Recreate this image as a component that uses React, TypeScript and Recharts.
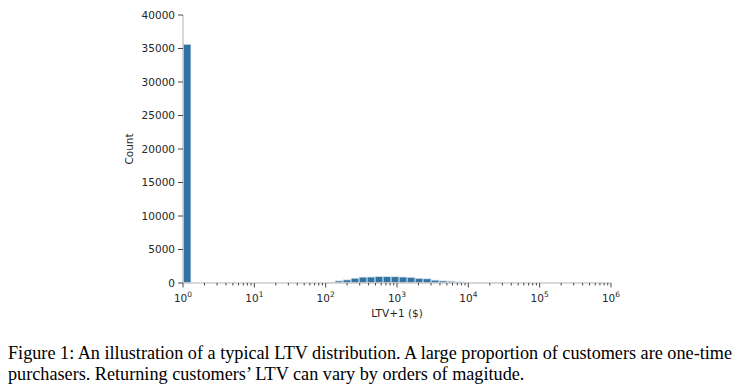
import { BarChart, Bar, XAxis, YAxis, Label } from "recharts";

// histogram of log10(LTV+1), bins of ~0.112 decades starting at 10^0
const BIN_DECADES = 0.1122;
const BIN_COUNTS = [
  35630, 0, 0, 0, 0, 0, 0, 0, 0, 0, 0, 0, 0, 0, 0, 0, 0, 0,
  120, 320, 480, 720, 880, 900, 980, 970, 950, 900, 850, 700, 640, 430, 320, 260, 160, 100, 50, 20,
  10, 5, 0, 0, 0, 0, 0, 0, 0, 0, 0, 0, 0, 0, 0,
];
const Y_TICKS = [0, 5000, 10000, 15000, 20000, 25000, 30000, 35000, 40000];
const DECADES = [0, 1, 2, 3, 4, 5, 6];
const MINOR_STEPS = [2, 3, 4, 5, 6, 7, 8, 9];

// bin centre on the log10 axis
const data = BIN_COUNTS.map((count, i) => ({ lx: (i + 0.5) * BIN_DECADES, count }));
const xTicks = [
  ...DECADES,
  ...DECADES.slice(0, -1).flatMap((d) => MINOR_STEPS.map((k) => d + Math.log10(k))),
].sort((a, b) => a - b);

const FONT = "DejaVu Sans";
const INK = "#262626";

function LogTick(props: any) {
  const { x, y, payload } = props;
  const v = payload.value;
  const major = Math.abs(v - Math.round(v)) < 1e-6;
  return (
    <g>
      <line x1={x} x2={x} y1={y} y2={y + (major ? 4.5 : 2.5)} stroke="#333" strokeWidth={0.9} />
      {major && (
        <text x={x} y={y + 19} textAnchor="middle" fontSize={10.5} fill={INK} fontFamily={FONT}>
          <tspan>10</tspan>
          <tspan dy={-5} fontSize={7.5}>{Math.round(v)}</tspan>
        </text>
      )}
    </g>
  );
}

export default function App() {
  return (
    <div style={{ position: "absolute", left: 0, top: 0, width: 745, background: "#fff" }}>
      <BarChart
        width={745}
        height={335}
        data={data}
        barCategoryGap={0}
        margin={{ top: 15, right: 134, left: 100, bottom: 12 }}
      >
        <XAxis
          dataKey="lx"
          type="number"
          domain={[0, 6]}
          ticks={xTicks}
          interval={0}
          allowDataOverflow
          height={40}
          tickSize={0}
          tickMargin={0}
          tick={<LogTick />}
          axisLine={{ stroke: "#cccccc", strokeWidth: 1.5 }}
        >
          <Label
            content={(p: any) => (
              <text
                x={p.viewBox.x + p.viewBox.width / 2}
                y={p.viewBox.y + 34}
                textAnchor="middle"
                fontSize={10.5}
                fill={INK}
                fontFamily={FONT}
              >
                LTV+1 ($)
              </text>
            )}
          />
        </XAxis>
        <YAxis
          width={83}
          domain={[0, 40000]}
          ticks={Y_TICKS}
          interval={0}
          tickSize={5}
          tickMargin={3}
          tick={{ fontSize: 10.5, fill: INK, fontFamily: FONT }}
          tickLine={{ stroke: "#333", strokeWidth: 0.9 }}
          axisLine={{ stroke: "#cccccc", strokeWidth: 1.5 }}
        >
          <Label
            content={(p: any) => {
              const cx = p.viewBox.x + 29;
              const cy = p.viewBox.y + p.viewBox.height / 2;
              return (
                <text
                  x={cx}
                  y={cy}
                  transform={`rotate(-90 ${cx} ${cy})`}
                  textAnchor="middle"
                  dominantBaseline="central"
                  fontSize={10.5}
                  fill={INK}
                  fontFamily={FONT}
                >
                  Count
                </text>
              );
            }}
          />
        </YAxis>
        <Bar
          dataKey="count"
          fill="#3274a1"
          stroke="#e6eef5"
          strokeWidth={0.8}
          isAnimationActive={false}
        />
      </BarChart>
      <div
        style={{
          marginTop: 8,
          marginLeft: 8,
          whiteSpace: "nowrap",
          fontFamily: "'Liberation Serif', 'Times New Roman', serif",
          fontSize: 18.2,
          lineHeight: "21px",
          color: "#000",
        }}
      >
        Figure 1: An illustration of a typical LTV distribution. A large proportion of customers are one-time
        <br />
        purchasers. Returning customers’ LTV can vary by orders of magitude.
      </div>
    </div>
  );
}
